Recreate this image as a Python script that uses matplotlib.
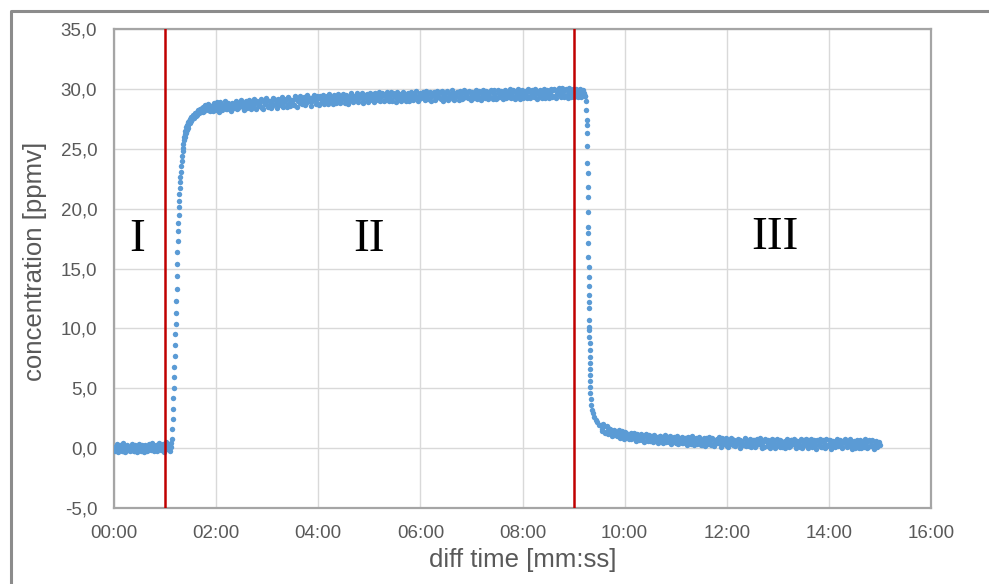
import numpy as np
import matplotlib
matplotlib.use("Agg")
import matplotlib.pyplot as plt
from matplotlib.ticker import FuncFormatter
from matplotlib.lines import Line2D

# measured concentration [ppmv] vs. diff time [s]
# phase I: baseline, even seconds from 0 s and odd seconds from 1 s
base_t0, base_dt = 0, 2
base_v = [0.12, -0.15, 0.21, -0.05, 0.08, -0.22, 0.17, 0.02, -0.18, 0.10,
          -0.08, 0.19, -0.25, 0.04, -0.12, 0.15, -0.20, 0.06, -0.10, 0.13,
          -0.16, 0.09, -0.03, 0.22, -0.11, 0.18, 0.00, 0.27, -0.07, 0.20,
          0.32, -0.09, 0.25]
base_v_odd = [-0.25, 0.35, -0.30, 0.28, -0.20, 0.40, -0.32, 0.30, 0.05, -0.28,
              0.33, -0.22, 0.25, -0.35, 0.38, -0.18, 0.30, -0.30, 0.22, -0.26,
              0.36, -0.12, 0.42, -0.28, 0.30, -0.20, 0.45, -0.15, 0.38, -0.30,
              0.48, -0.10]

# rise at the start of phase II
rise_t = [65, 65.7, 66.3, 67, 67.5, 68, 68.4, 68.8, 69.2, 69.6, 70, 70.4, 70.8,
          71.2, 71.6, 72, 72.4, 72.8, 73.2, 73.6, 74, 74.3, 74.6, 74.9, 75.2,
          75.5, 75.8, 76.1, 76.4, 76.8, 77.2, 77.6, 78, 78.5, 79, 79.5, 80,
          80.5, 81, 81.5, 82, 82.5, 83, 83.5, 84, 84.5, 85, 85.5, 86, 86.5,
          87, 87.5, 88, 89, 89.5, 90, 91, 92, 93, 94, 95, 96, 97, 98, 99,
          100, 101, 102, 103]
rise_v = [0.05, 0.35, -0.2, 0.45, 0.1, 0.8, 1.6, 2.4, 3.3, 4.2, 5.0, 5.9, 6.8,
          7.7, 8.6, 9.5, 10.4, 11.3, 12.3, 13.3, 14.4, 15.4, 16.4, 17.3, 18.1,
          18.8, 19.5, 20.1, 20.6, 21.2, 21.7, 22.2, 22.6, 23.1, 23.6, 24.0, 24.4,
          24.8, 25.1, 25.4, 25.7, 25.95, 26.2, 26.0, 26.5, 26.3, 26.8, 26.55, 27.0, 26.75,
          27.2, 26.95, 27.35, 27.15, 27.5, 27.3, 27.65, 27.45, 27.8, 27.55, 27.95, 27.7, 28.1, 27.85, 28.2,
          27.95, 28.3, 28.05, 28.4]

# phase II plateau, even seconds from 104 s, odd seconds from 105 s
plat_t0, plat_dt = 104, 2
plat_v = [28.45, 28.12, 28.52, 28.21, 28.63, 28.30, 28.18, 28.69, 28.35, 28.58,
          28.31, 28.76, 28.44, 28.60, 28.29, 28.80, 28.50, 28.38, 28.72, 28.47,
          28.85, 28.41, 28.66, 28.92, 28.49, 28.71, 28.37, 28.83, 28.58, 28.95,
          28.52, 28.78, 29.00, 28.60, 28.87, 28.41, 28.95, 28.70, 29.04, 28.62,
          28.90, 28.58, 29.12, 28.77, 28.99, 28.66, 29.08, 28.51, 28.94, 29.15,
          28.75, 29.18, 28.88, 29.05, 28.69, 29.22, 28.97, 28.80, 29.26, 28.90,
          29.14, 28.82, 29.30, 29.01, 28.89, 29.33, 29.07, 28.84, 29.21, 29.38,
          28.94, 29.27, 29.05, 29.41, 28.91, 29.19, 29.36, 28.98, 29.29, 29.12,
          29.40, 28.99, 29.25, 29.47, 29.06, 29.33, 28.96, 29.44, 29.18, 29.37,
          29.03, 29.49, 29.20, 29.36, 29.01, 29.52, 29.28, 29.10, 29.45, 29.24,
          29.55, 29.13, 29.38, 29.06, 29.47, 29.30, 29.58, 29.09, 29.41, 29.22,
          29.50, 29.17, 29.62, 29.28, 29.44, 29.11, 29.56, 29.36, 29.20, 29.60,
          29.14, 29.48, 29.29, 29.66, 29.23, 29.52, 29.35, 29.12, 29.59, 29.40,
          29.63, 29.26, 29.45, 29.17, 29.57, 29.39, 29.70, 29.21, 29.50, 29.32,
          29.19, 29.61, 29.44, 29.27, 29.68, 29.36, 29.53, 29.15, 29.64, 29.42,
          29.71, 29.30, 29.55, 29.22, 29.62, 29.47, 29.25, 29.74, 29.38, 29.58,
          29.29, 29.66, 29.44, 29.75, 29.33, 29.57, 29.21, 29.69, 29.49, 29.36,
          29.72, 29.40, 29.60, 29.27, 29.78, 29.48, 29.65, 29.32, 29.56, 29.77,
          29.35, 29.62, 29.44, 29.81, 29.50, 29.28, 29.70, 29.53, 29.39, 29.76,
          29.63, 29.34, 29.79, 29.48, 29.67, 29.41, 29.84, 29.55, 29.30, 29.72,
          29.46, 29.81, 29.58, 29.37, 29.75, 29.52, 29.88, 29.43, 29.69, 29.60,
          29.86, 29.47, 29.71, 29.40, 29.92, 29.58, 29.77, 29.49, 29.83, 29.62,
          29.80, 29.52, 29.74, 29.60, 29.68]
plat_v_odd = [28.05, 28.62, 28.40, 28.74, 28.15, 28.55, 28.80, 28.26, 28.90, 28.10,
              28.88, 28.20, 28.65, 28.95, 28.33, 28.57, 28.15, 28.86, 28.40, 28.99,
              28.28, 28.78, 29.05, 28.52, 28.25, 28.97, 28.60, 29.08, 28.33, 28.76,
              29.12, 28.35, 28.84, 28.55, 29.15, 28.30, 28.74, 29.20, 28.45, 28.98,
              28.43, 29.23, 28.70, 28.40, 29.18, 28.85, 29.28, 28.60, 29.05, 28.47,
              29.32, 28.55, 29.10, 28.63, 29.38, 28.50, 29.15, 29.40, 28.72, 29.30,
              28.62, 29.45, 28.95, 28.58, 29.25, 29.48, 28.70, 29.40, 28.65, 29.18,
              29.50, 28.75, 29.33, 28.70, 29.55, 29.02, 28.72, 29.48, 28.80, 29.58,
              28.78, 29.30, 29.60, 28.85, 29.52, 28.76, 29.42, 29.62, 28.90, 29.15,
              29.63, 28.88, 29.40, 29.66, 28.85, 29.32, 29.58, 28.92, 29.68, 29.05,
              28.90, 29.68, 29.20, 29.72, 28.95, 29.62, 29.00, 29.50, 29.75, 28.98,
              29.70, 29.00, 29.45, 28.93, 29.78, 29.25, 29.02, 29.73, 29.40, 28.98,
              29.62, 28.97, 29.78, 29.05, 29.40, 29.80, 29.00, 29.68, 29.22, 29.75,
              29.05, 29.82, 29.15, 29.70, 29.00, 29.60, 29.08, 29.85, 29.30, 29.72,
              29.80, 29.02, 29.66, 29.85, 29.10, 29.58, 29.88, 29.05, 29.35, 29.78,
              29.08, 29.82, 29.12, 29.90, 29.28, 29.70, 29.86, 29.10, 29.76, 29.20,
              29.88, 29.15, 29.80, 29.10, 29.92, 29.40, 29.85, 29.12, 29.70, 29.90,
              29.18, 29.88, 29.15, 29.94, 29.30, 29.82, 29.12, 29.90, 29.25, 29.45,
              29.95, 29.20, 29.88, 29.18, 29.66, 29.98, 29.15, 29.90, 29.25, 29.85,
              29.20, 29.96, 29.22, 29.90, 29.28, 30.00, 29.18, 29.85, 29.94, 29.26,
              29.98, 29.25, 29.92, 29.20, 30.02, 29.32, 29.95, 29.22, 29.88, 30.04,
              29.28, 30.05, 29.30, 29.95, 29.25, 30.08, 29.35, 29.98, 29.28, 30.00,
              29.35, 29.98, 29.30, 29.90, 29.42]

# drop at the start of phase III
drop_t = [554.0, 554.6, 555.2, 555.5, 555.7, 555.9, 556.1, 556.3, 556.45, 556.6,
          556.75, 556.9, 557.05, 557.15, 557.3, 557.45, 557.6, 557.75, 557.9, 558.0,
          558.1, 558.2, 558.35, 558.45, 558.55, 558.65, 558.8, 558.9, 559.0, 559.1,
          559.25, 559.4, 559.55, 559.7, 559.9, 560.3, 561.0, 562, 563, 564.5,
          566, 568, 570]
drop_v = [29.4, 29.0, 28.2, 27.4, 27.0, 26.3, 25.2, 23.8, 23.0, 21.8,
          21.0, 19.7, 18.5, 18.0, 17.1, 16.0, 15.1, 14.3, 13.5, 12.8,
          12.2, 11.7, 10.7, 10.1, 9.9, 9.3, 8.8, 8.2, 7.6, 7.1,
          6.6, 6.1, 5.6, 5.1, 4.6, 4.1, 3.6, 3.2, 2.9, 2.6,
          2.35, 2.15, 1.95]

# phase III tail, even seconds from 572 s, odd seconds from 573 s
tail_t0, tail_dt = 572, 2
tail_v = [1.92, 1.58, 1.81, 1.37, 1.70, 1.26, 1.49, 1.40, 1.08, 1.35,
          1.31, 0.95, 1.22, 1.12, 0.86, 1.27, 0.98, 1.15, 0.79, 1.08,
          0.74, 1.12, 0.88, 1.03, 0.69, 0.95, 1.10, 0.72, 0.90, 0.62,
          1.02, 0.78, 0.57, 0.91, 0.70, 0.99, 0.52, 0.84, 0.66, 0.93,
          0.48, 0.81, 0.63, 0.90, 0.44, 0.72, 0.58, 0.86, 0.39, 0.69,
          0.83, 0.51, 0.70, 0.35, 0.76, 0.58, 0.88, 0.42, 0.64, 0.30,
          0.71, 0.46, 0.82, 0.33, 0.60, 0.75, 0.27, 0.55, 0.79, 0.40,
          0.62, 0.29, 0.70, 0.48, 0.21, 0.66, 0.38, 0.77, 0.45, 0.18,
          0.58, 0.31, 0.69, 0.40, 0.26, 0.73, 0.47, 0.15, 0.55, 0.36,
          0.64, 0.22, 0.49, 0.70, 0.30, 0.43, 0.12, 0.61, 0.37, 0.55,
          0.19, 0.52, 0.68, 0.28, 0.45, 0.08, 0.59, 0.34, 0.63, 0.24,
          0.50, 0.16, 0.66, 0.35, 0.22, 0.57, 0.41, 0.11, 0.62, 0.30,
          0.47, 0.20, 0.64, 0.38, 0.13, 0.55, 0.29, 0.71, 0.25, 0.44,
          0.10, 0.58, 0.36, 0.21, 0.67, 0.40, 0.17, 0.52, 0.31, 0.60,
          0.23, 0.46, 0.07, 0.55, 0.34, 0.62, 0.15, 0.41, 0.27, 0.53,
          0.18, 0.49, 0.33, 0.05, 0.58, 0.26, 0.44, 0.12, 0.63, 0.30,
          0.21, 0.47, 0.09, 0.38, 0.26]
tail_v_odd = [1.45, 2.05, 1.30, 1.88, 1.18, 1.62, 1.05, 1.55, 1.32, 0.98,
              1.48, 0.88, 1.40, 0.80, 1.36, 1.02, 0.75, 1.30, 0.90, 1.25,
              0.58, 1.22, 0.70, 1.18, 0.95, 0.55, 1.15, 0.62, 1.08, 0.85,
              0.48, 1.12, 0.65, 0.40, 1.05, 0.82, 0.45, 1.08, 0.55, 0.95,
              0.98, 0.35, 0.88, 0.50, 1.02, 0.32, 0.75, 0.96, 0.40, 0.85,
              0.28, 0.92, 0.45, 0.98, 0.25, 0.80, 0.38, 0.95, 0.55, 0.22,
              0.88, 0.20, 0.66, 0.92, 0.30, 0.85, 0.15, 0.72, 0.42, 0.90,
              0.12, 0.82, 0.35, 0.88, 0.10, 0.60, 0.85, 0.25, 0.72, 0.50,
              0.80, 0.05, 0.62, 0.28, 0.84, 0.15, 0.58, 0.78, 0.08, 0.66,
              0.10, 0.78, 0.32, 0.82, 0.02, 0.58, 0.75, 0.18, 0.70, 0.04,
              0.74, 0.28, 0.00, 0.80, 0.40, 0.72, 0.12, 0.55, -0.02, 0.76,
              0.06, 0.72, 0.44, 0.78, 0.02, 0.60, 0.26, 0.80, 0.00, 0.68,
              0.74, 0.04, 0.52, 0.80, 0.18, 0.70, -0.05, 0.62, 0.76, 0.10,
              0.66, 0.02, 0.78, 0.24, 0.72, -0.04, 0.60, 0.08, 0.75, 0.20,
              0.70, 0.00, 0.62, 0.76, 0.12, 0.48, 0.74, -0.06, 0.58, 0.05,
              0.68, -0.02, 0.72, 0.44, 0.10, 0.76, 0.00, 0.66, 0.18, 0.70,
              -0.05, 0.62, 0.14, 0.55]

phase_bounds = [60, 540]  # s
phase_labels = ["I", "II", "III"]
phase_label_x = [27, 300, 777]
phase_label_y = [17.4, 17.4, 17.6]

xticks = np.arange(0, 961, 120)
yticks = np.arange(-5, 36, 5)

def grid_times(t0, dt, vals):
    return t0 + dt * np.arange(len(vals))

t = np.concatenate([grid_times(base_t0, base_dt, base_v),
                    grid_times(base_t0 + 1, base_dt, base_v_odd), rise_t,
                    grid_times(plat_t0, plat_dt, plat_v),
                    grid_times(plat_t0 + 1, plat_dt, plat_v_odd), drop_t,
                    grid_times(tail_t0, tail_dt, tail_v),
                    grid_times(tail_t0 + 1, tail_dt, tail_v_odd)])
v = np.concatenate([base_v, base_v_odd, rise_v, plat_v, plat_v_odd, drop_v,
                    tail_v, tail_v_odd])

grey = "#595959"
plt.rcParams["font.family"] = ["Liberation Sans", "DejaVu Sans"]

fig = plt.figure(figsize=(9.89, 5.84), dpi=100)
ax = fig.add_axes([114/989, 1-508/584, (931-114)/989, (508-29)/584])

ax.plot(t, v, "o", ms=3.9, mew=0, color="#5b9bd5", zorder=3)
for b in phase_bounds:
    ax.axvline(b, color="#c00000", lw=1.8, zorder=4)
for lab, x, y in zip(phase_labels, phase_label_x, phase_label_y):
    ax.text(x, y, lab, ha="center", va="center", fontsize=34,
            family="Liberation Serif", color="black", zorder=5)

ax.set_xlim(0, 960)
ax.set_ylim(-5, 35)
ax.set_xticks(xticks)
ax.set_yticks(yticks)
ax.xaxis.set_major_formatter(FuncFormatter(lambda s, p: "%02d:%02d" % (s // 60, s % 60)))
ax.yaxis.set_major_formatter(FuncFormatter(lambda s, p: ("%.1f" % s).replace(".", ",")))
ax.tick_params(length=0, labelsize=13.5, labelcolor=grey)
ax.tick_params(axis="x", pad=12)
ax.tick_params(axis="y", pad=12)
ax.grid(True, color="#d9d9d9", lw=1.0, zorder=0)
ax.set_axisbelow(True)
for s in ax.spines.values():
    s.set_color("#a5a5a5")
    s.set_linewidth(1.6)

ax.set_xlabel("diff time [mm:ss]", fontsize=18.5, color=grey)
ax.set_ylabel("concentration [ppmv]", fontsize=18.5, color=grey)
ax.xaxis.set_label_coords(0.5, -0.083)
ax.yaxis.set_label_coords(-0.082, 0.515)

# outer chart frame
fig.add_artist(Line2D([10.5/989, 10.5/989, 1.0], [0.0, 1-11/584, 1-11/584],
                      transform=fig.transFigure, color="#8c8c8c", lw=2.2))

fig.savefig("out.png", dpi=100)
